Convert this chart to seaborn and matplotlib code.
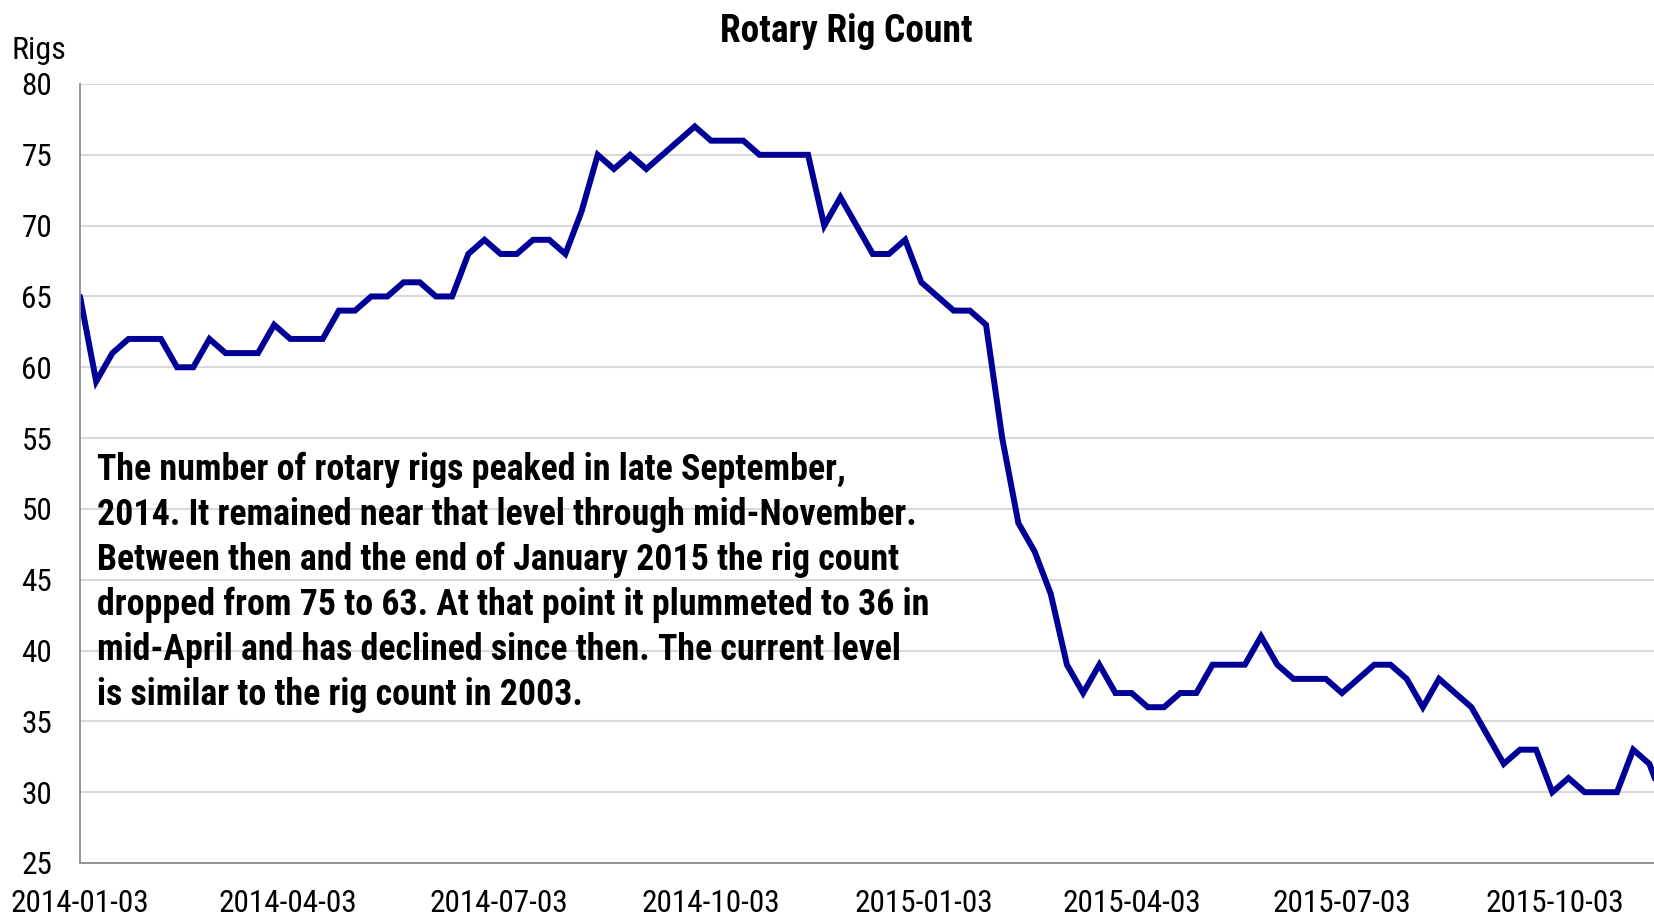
import matplotlib
matplotlib.use("Agg")
import matplotlib.pyplot as plt
import matplotlib.dates as mdates
import seaborn as sns
import pandas as pd
import numpy as np

# ---- data ----
start_date = "2014-01-03"
rigs = [65, 59, 61, 62, 62, 62, 60, 60, 62, 61,
        61, 61, 63, 62, 62, 62, 64, 64, 65, 65,
        66, 66, 65, 65, 68, 69, 68, 68, 69, 69,
        68, 71, 75, 74, 75, 74, 75, 76, 77, 76,
        76, 76, 75, 75, 75, 75, 70, 72, 70, 68,
        68, 69, 66, 65, 64, 64, 63, 55, 49, 47,
        44, 39, 37, 39, 37, 37, 36, 36, 37, 37,
        39, 39, 39, 41, 39, 38, 38, 38, 37, 38,
        39, 39, 38, 36, 38, 37, 36, 34, 32, 33,
        33, 30, 31, 30, 30, 30, 33, 32, 29]
tick_dates = ["2014-01-03", "2014-04-03", "2014-07-03", "2014-10-03",
              "2015-01-03", "2015-04-03", "2015-07-03", "2015-10-03"]
y_ticks = [25, 30, 35, 40, 45, 50, 55, 60, 65, 70, 75, 80]
title = "Rotary Rig Count"
y_label = "Rigs"
note_lines = [
    "The number of rotary rigs peaked in late September,",
    "2014. It remained near that level through mid-November.",
    "Between then and the end of January 2015 the rig count",
    "dropped from 75 to 63. At that point it plummeted to 36 in",
    "mid-April and has declined since then. The current level",
    "is similar to the rig count in 2003.",
]

df = pd.DataFrame({
    "date": pd.date_range(start_date, periods=len(rigs), freq="7D"),
    "rigs": rigs,
})

sns.set_style("white")
FONT = ["Roboto Condensed", "Liberation Sans", "DejaVu Sans"]
plt.rcParams["font.family"] = FONT
plt.rcParams["text.color"] = "black"

W, H = 1654, 917
fig = plt.figure(figsize=(W / 100, H / 100), dpi=100)
ax = fig.add_axes([80 / W, 1 - 863 / H, 1 - 80 / W, (863 - 84) / H])

sns.lineplot(data=df, x="date", y="rigs", ax=ax, color="#000096",
             linewidth=4.3, solid_joinstyle="miter", clip_on=True)

ax.set_ylim(25, 80)
ax.set_xlim(pd.Timestamp("2014-01-03"), pd.Timestamp("2015-11-15"))
ax.set_yticks(y_ticks)
ax.set_xticks(pd.to_datetime(tick_dates))
ax.xaxis.set_major_formatter(mdates.DateFormatter("%Y-%m-%d"))
ax.set_xlabel("")
ax.set_ylabel("")

ax.yaxis.grid(True, color="#d9d9d9", linewidth=1.5)
ax.xaxis.grid(False)
ax.set_axisbelow(True)

for s in ["top", "right"]:
    ax.spines[s].set_visible(False)
for s in ["left", "bottom"]:
    ax.spines[s].set_color("#8c8c8c")
    ax.spines[s].set_linewidth(1.3)

ax.tick_params(axis="both", which="major", direction="out", length=7,
               width=1.3, color="#8c8c8c", labelsize=22.5, labelcolor="black")
ax.tick_params(axis="y", pad=13)
ax.tick_params(axis="x", pad=12)

fig.text(846 / W, 1 - 42 / H, title, ha="center", va="baseline",
         fontsize=27, fontweight="bold", family=FONT, color="black")
fig.text(12 / W, 1 - 59 / H, y_label, ha="left", va="baseline",
         fontsize=23, family=FONT, color="black")

for i, line in enumerate(note_lines):
    fig.text(97 / W, 1 - (480 + 45 * i) / H, line, ha="left", va="baseline",
             fontsize=25.8, fontweight="bold", family=FONT, color="black")

fig.savefig("out.png", dpi=100)
